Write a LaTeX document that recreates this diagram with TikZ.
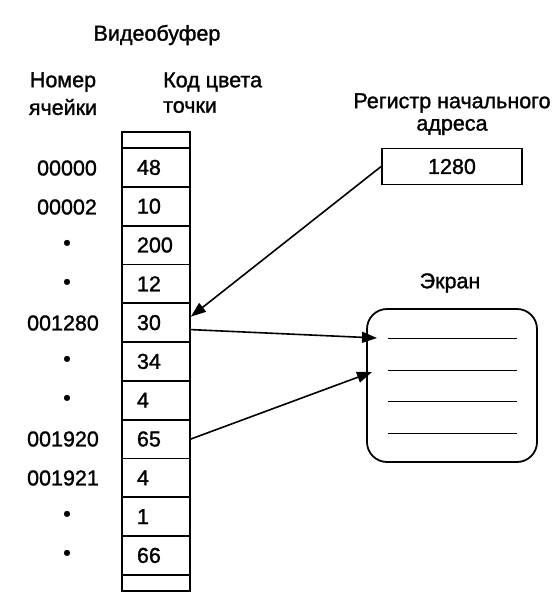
\documentclass[tikz,border=0pt]{standalone}
\usepackage{fontspec}
\setmainfont{Liberation Sans}[BoldFont=Liberation Sans,BoldFeatures={FakeBold=1.3}]
\usetikzlibrary{calc,arrows.meta}
\begin{document}
\begin{tikzpicture}[x=1pt,y=-1pt,
  every node/.style={font=\fontsize{21.5}{24}\selectfont\bfseries},
  cellbox/.style={draw,line width=1.8pt,minimum width=68pt,minimum height=38.8pt,
    text width=38pt,inner xsep=15pt,inner ysep=0pt,align=left},
  stripbox/.style={draw,line width=1.8pt,minimum width=68pt,minimum height=16pt,inner sep=0pt},
  lbl/.style={inner sep=0pt},
  conn/.style={line width=1.6pt,-{Triangle[length=15pt,width=11pt]}},
  scrline/.style={line width=0.9pt}]
\useasboundingbox (0,0) rectangle (555,594);
% headings
\node[lbl] (title) at (157,35) {Видеобуфер};
\node[lbl] (hnum1) at (63,82) {Номер};
\node[lbl] (hnum2) at (63,107) {ячейки};
\node[lbl,anchor=west] (hcod1) at (163,82) {Код цвета};
\node[lbl,anchor=west] (hcod2) at (163,107) {точки};
% column
\node[stripbox] (top) at (156,140) {};
\foreach \v [count=\i from 0] in {48,10,200,12,30,34,4,65,4,1,66}{
  \node[cellbox] (c\i) at (156,{148+38.8*\i+19.4}) {\v};
}
\node[stripbox] (bot) at (156,583) {};
\draw[line width=2.6pt] (122,132) rectangle (190,591);
% addresses
\node[lbl] (a0) at (67,168) {00000};
\node[lbl] (a1) at (67,207) {00002};
\node[lbl] (a2) at (67,245) {•};
\node[lbl] (a3) at (67,284) {•};
\node[lbl] (a4) at (63,323) {001280};
\node[lbl] (a5) at (67,361) {•};
\node[lbl] (a6) at (67,400) {•};
\node[lbl] (a7) at (63,439) {001920};
\node[lbl] (a8) at (63,478) {001921};
\node[lbl] (a9) at (67,516) {•};
\node[lbl] (a10) at (67,555) {•};
% register
\node[lbl] (reg1) at (452,103) {Регистр начального};
\node[lbl] (reg2) at (452,127) {адреса};
\node[draw,line width=1.8pt,minimum width=140pt,minimum height=36pt,inner sep=0pt] (reg) at (452,166.5) {1280};
% screen
\node[lbl] (scrt) at (450,283) {Экран};
\node[draw,line width=1.8pt,rounded corners=20pt,minimum width=170pt,minimum height=153pt,inner sep=0pt] (scr) at (452,385.5) {};
\coordinate (l1a) at (388,338); \coordinate (l1b) at (517,338);
\coordinate (l2a) at (388,370); \coordinate (l2b) at (517,370);
\coordinate (l3a) at (388,401); \coordinate (l3b) at (517,401);
\coordinate (l4a) at (388,433); \coordinate (l4b) at (517,433);
\draw[scrline] (l1a) -- (l1b);
\draw[scrline] (l2a) -- (l2b);
\draw[scrline] (l3a) -- (l3b);
\draw[scrline] (l4a) -- (l4b);
\coordinate (t1) at (377,338);
\coordinate (t2) at (372,372);
% connectors
\draw[conn] (reg.west) -- ($(c4.east)+(0,-6)$);
\draw[conn] ($(c4.east)+(0,7)$) -- (t1);
\draw[conn] (c7.east) -- (t2);
\end{tikzpicture}
\end{document}
